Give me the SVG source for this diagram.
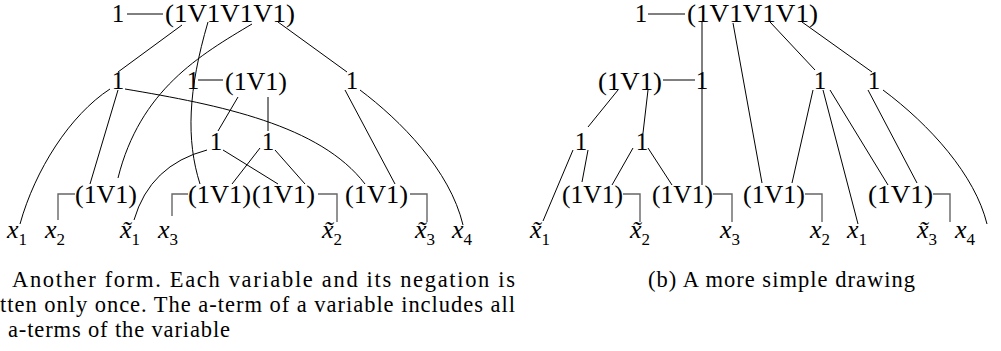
<svg xmlns="http://www.w3.org/2000/svg" width="1001" height="351" viewBox="0 0 1001 351">
<style>
text{font-family:"Liberation Serif","DejaVu Serif",serif;fill:#000}
.n{font-size:25px}
.c{text-anchor:middle}
.v{font-size:26px;font-style:italic}
.s{font-size:17px;font-style:normal}
.cap{font-size:22.5px}
.e{fill:none;stroke:#000;stroke-width:1}
.b{fill:none;stroke:#666;stroke-width:1.4}
</style>
<rect width="1001" height="351" fill="#fff"/>
<g id="connectors">
<!-- left panel -->
<path class="e" d="M127,14H163"/>
<path class="e" d="M198,80H223"/>
<path class="e" d="M182,25L118,72"/>
<path class="e" d="M208,22C188,90 186,140 200,184"/>
<path class="e" d="M252,24C200,55 140,90 118,178"/>
<path class="e" d="M278,22L347,72"/>
<path class="e" d="M110,89C70,115 35,170 20,224"/>
<path class="e" d="M118,90L90,184"/>
<path class="e" d="M125,89C220,105 320,125 365,184"/>
<path class="e" d="M238,97L218,131"/>
<path class="e" d="M268,97L268,131"/>
<path class="e" d="M345,90L395,184"/>
<path class="e" d="M360,90C400,120 450,170 463,225"/>
<path class="e" d="M223,150L278,184"/>
<path class="e" d="M207,150Q150,165 134,220"/>
<path class="e" d="M260,148L232,184"/>
<path class="e" d="M275,150L305,184"/>
<path class="b" d="M58,220V194H75"/>
<path class="b" d="M172,216V194H188"/>
<path class="b" d="M318,194H337V222"/>
<path class="b" d="M410,194H427V222"/>
<!-- right panel -->
<path class="e" d="M648,14H685"/>
<path class="e" d="M663,80H695"/>
<path class="e" d="M702,22V185"/>
<path class="e" d="M733,23L762,183"/>
<path class="e" d="M770,22L815,70"/>
<path class="e" d="M802,22L872,72"/>
<path class="e" d="M618,90L588,127"/>
<path class="e" d="M648,90L643,133"/>
<path class="e" d="M573,150L543,221"/>
<path class="e" d="M588,150L582,182"/>
<path class="e" d="M633,148L612,185"/>
<path class="e" d="M648,148L672,185"/>
<path class="e" d="M813,90L792,183"/>
<path class="e" d="M823,90L858,224"/>
<path class="e" d="M830,90L888,185"/>
<path class="e" d="M868,90L917,183"/>
<path class="e" d="M883,90C930,125 975,175 987,224"/>
<path class="b" d="M623,194H640V222"/>
<path class="b" d="M713,194H732V222"/>
<path class="b" d="M805,194H822V222"/>
<path class="b" d="M933,194H950V222"/>
</g>
<!-- left panel nodes -->
<g id="a-top-1"><text class="n c" x="118" y="22">1</text></g>
<g id="a-top-or"><text class="n" x="165" y="22" textLength="130" lengthAdjust="spacingAndGlyphs">(1V1V1V1)</text></g>
<g id="a-r2-1a"><text class="n c" x="118" y="89">1</text></g>
<g id="a-r2-1b"><text class="n c" x="193" y="89">1</text></g>
<g id="a-r2-or"><text class="n" x="225" y="90" textLength="62" lengthAdjust="spacingAndGlyphs">(1V1)</text></g>
<g id="a-r2-1c"><text class="n c" x="352" y="89">1</text></g>
<g id="a-r3-1a"><text class="n c" x="216" y="150">1</text></g>
<g id="a-r3-1b"><text class="n c" x="268" y="150">1</text></g>
<g id="a-r4-or1"><text class="n" x="75" y="203" textLength="62" lengthAdjust="spacingAndGlyphs">(1V1)</text></g>
<g id="a-r4-or2"><text class="n" x="188" y="203" textLength="63" lengthAdjust="spacingAndGlyphs">(1V1)</text></g>
<g id="a-r4-or3"><text class="n" x="252" y="203" textLength="63" lengthAdjust="spacingAndGlyphs">(1V1)</text></g>
<g id="a-r4-or4"><text class="n" x="345" y="203" textLength="63" lengthAdjust="spacingAndGlyphs">(1V1)</text></g>
<g id="a-x1"><text class="v" x="7" y="238">x<tspan class="s" dy="7">1</tspan></text></g>
<g id="a-x2"><text class="v" x="45" y="238">x<tspan class="s" dy="7">2</tspan></text></g>
<g id="a-nx1"><text class="v" x="120" y="238">x̃<tspan class="s" dy="7">1</tspan></text></g>
<g id="a-x3"><text class="v" x="158" y="238">x<tspan class="s" dy="7">3</tspan></text></g>
<g id="a-nx2"><text class="v" x="322" y="238">x̃<tspan class="s" dy="7">2</tspan></text></g>
<g id="a-nx3"><text class="v" x="415" y="238">x̃<tspan class="s" dy="7">3</tspan></text></g>
<g id="a-x4"><text class="v" x="452" y="238">x<tspan class="s" dy="7">4</tspan></text></g>
<!-- right panel nodes -->
<g id="b-top-1"><text class="n c" x="641" y="22">1</text></g>
<g id="b-top-or"><text class="n" x="687" y="22" textLength="131" lengthAdjust="spacingAndGlyphs">(1V1V1V1)</text></g>
<g id="b-r2-or"><text class="n" x="598" y="90" textLength="64" lengthAdjust="spacingAndGlyphs">(1V1)</text></g>
<g id="b-r2-1a"><text class="n c" x="702" y="89">1</text></g>
<g id="b-r2-1b"><text class="n c" x="820" y="89">1</text></g>
<g id="b-r2-1c"><text class="n c" x="874" y="89">1</text></g>
<g id="b-r3-1a"><text class="n c" x="581" y="150">1</text></g>
<g id="b-r3-1b"><text class="n c" x="642" y="150">1</text></g>
<g id="b-r4-or1"><text class="n" x="562" y="203" textLength="61" lengthAdjust="spacingAndGlyphs">(1V1)</text></g>
<g id="b-r4-or2"><text class="n" x="652" y="203" textLength="61" lengthAdjust="spacingAndGlyphs">(1V1)</text></g>
<g id="b-r4-or3"><text class="n" x="743" y="203" textLength="62" lengthAdjust="spacingAndGlyphs">(1V1)</text></g>
<g id="b-r4-or4"><text class="n" x="868" y="203" textLength="65" lengthAdjust="spacingAndGlyphs">(1V1)</text></g>
<g id="b-nx1"><text class="v" x="530" y="238">x̃<tspan class="s" dy="7">1</tspan></text></g>
<g id="b-nx2"><text class="v" x="630" y="238">x̃<tspan class="s" dy="7">2</tspan></text></g>
<g id="b-x3"><text class="v" x="720" y="238">x<tspan class="s" dy="7">3</tspan></text></g>
<g id="b-x2"><text class="v" x="810" y="238">x<tspan class="s" dy="7">2</tspan></text></g>
<g id="b-x1"><text class="v" x="847" y="238">x<tspan class="s" dy="7">1</tspan></text></g>
<g id="b-nx3"><text class="v" x="917" y="238">x̃<tspan class="s" dy="7">3</tspan></text></g>
<g id="b-x4"><text class="v" x="955" y="238">x<tspan class="s" dy="7">4</tspan></text></g>
<!-- captions -->
<g id="captions">
<text class="cap" x="12" y="287" textLength="503" lengthAdjust="spacing">Another form.  Each variable and its negation is</text>
<text class="cap" x="0" y="312" textLength="515" lengthAdjust="spacing">tten only once. The a-term of a variable includes all</text>
<text class="cap" x="8" y="337" textLength="222" lengthAdjust="spacing">a-terms of the variable</text>
<text class="cap" x="648" y="287" textLength="267" lengthAdjust="spacing">(b) A more simple drawing</text>
</g>
</svg>
